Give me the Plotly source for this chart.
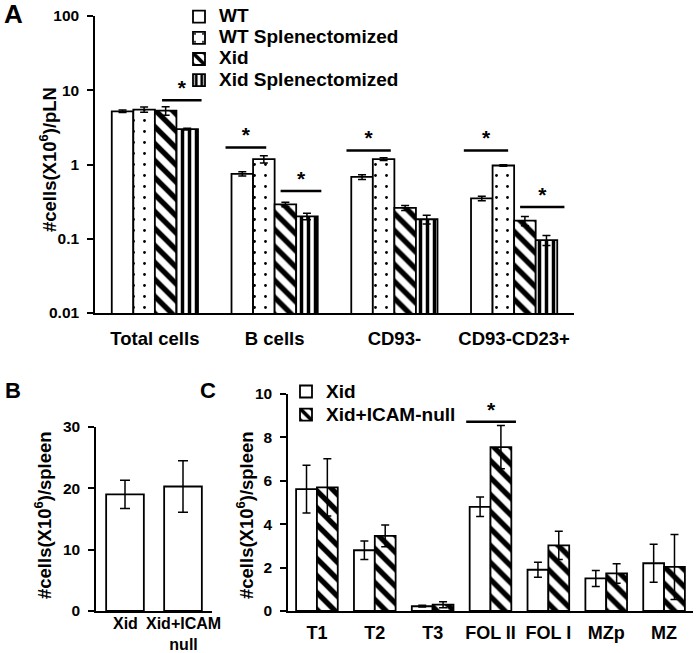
import plotly.graph_objects as go

# ---------------- Panel A data ----------------
a_categories = ["Total cells", "B cells", "CD93-", "CD93-CD23+"]
a_series = ["WT", "WT Splenectomized", "Xid", "Xid Splenectomized"]
a_wt = [5.2, 0.75, 0.68, 0.35]
a_wt_err = [0.2, 0.05, 0.05, 0.025]
a_wtspl = [5.5, 1.18, 1.18, 0.97]
a_wtspl_err = [0.45, 0.13, 0.05, 0.02]
a_xid = [5.3, 0.29, 0.26, 0.175]
a_xid_err = [0.7, 0.02, 0.02, 0.025]
a_xidspl = [3.0, 0.20, 0.183, 0.096]
a_xidspl_err = [0.08, 0.02, 0.025, 0.015]
a_tickvals = [0.01, 0.1, 1, 10, 100]
a_ticktext = ["0.01", "0.1", "1", "10", "100"]
# significance bars: (category index, x offset start, x offset end, y value)
a_sig = [(0, 0.06, 0.39, 7.35), (1, -0.41, -0.07, 1.69), (1, 0.05, 0.39, 0.44),
         (2, -0.40, -0.03, 1.54), (3, -0.42, -0.05, 1.54), (3, 0.05, 0.42, 0.267)]

# ---------------- Panel B data ----------------
b_categories = ["Xid", "Xid+ICAM<br>null"]
b_values = [19.0, 20.3]
b_err = [2.3, 4.2]
b_tickvals = [0, 10, 20, 30]

# ---------------- Panel C data ----------------
c_categories = ["T1", "T2", "T3", "FOL II", "FOL I", "MZp", "MZ"]
c_series = ["Xid", "Xid+ICAM-null"]
c_xid = [5.62, 2.8, 0.22, 4.8, 1.9, 1.5, 2.2]
c_xid_err = [1.1, 0.43, 0.04, 0.45, 0.35, 0.37, 0.88]
c_icam = [5.7, 3.46, 0.29, 7.55, 3.02, 1.73, 2.03]
c_icam_err = [1.32, 0.5, 0.14, 1.0, 0.65, 0.45, 1.5]
c_tickvals = [0, 2, 4, 6, 8, 10]
c_sig = [(3, -0.42, 0.44, 8.72)]

FONT = "Liberation Sans, Arial, sans-serif"
W, H = 697, 653

fig = go.Figure()

patterns = [dict(shape=""),
            dict(shape=".", size=11, solidity=0.05, fgcolor="black", bgcolor="white"),
            dict(shape="\\", size=12, solidity=0.45, fgcolor="black", bgcolor="white"),
            dict(shape="|", size=7, solidity=0.5, fgcolor="black", bgcolor="white")]


def big(name, size):
    return f"<span style='font-size:{size}px'>{name}</span>"


a_vals = [a_wt, a_wtspl, a_xid, a_xidspl]
a_errs = [a_wt_err, a_wtspl_err, a_xid_err, a_xidspl_err]
a_x = list(range(len(a_categories)))
for name, vals, errs, pat in zip(a_series, a_vals, a_errs, patterns):
    fig.add_trace(go.Bar(
        x=a_x, y=vals, name=big(name, 19), xaxis="x", yaxis="y", legend="legend",
        marker=dict(color="white", line=dict(color="black", width=1.8), pattern=pat),
        error_y=dict(type="data", array=errs, color="black", thickness=1.5, width=4),
        offsetgroup=name,
    ))

for (ci, o0, o1, yv) in a_sig:
    fig.add_trace(go.Scatter(x=[ci + o0, ci + o1], y=[yv, yv], mode="lines",
                             line=dict(color="black", width=2.5), xaxis="x", yaxis="y",
                             showlegend=False, hoverinfo="skip"))
    fig.add_trace(go.Scatter(x=[ci + (o0 + o1) / 2], y=[yv], mode="text", text=["<b>*</b>"],
                             textposition="top center",
                             textfont=dict(family=FONT, size=21, color="black"),
                             xaxis="x", yaxis="y", showlegend=False, hoverinfo="skip"))

# Panel B
b_x = list(range(len(b_categories)))
fig.add_trace(go.Bar(
    x=b_x, y=b_values, xaxis="x2", yaxis="y2", showlegend=False,
    marker=dict(color="white", line=dict(color="black", width=1.8)),
    error_y=dict(type="data", array=b_err, color="black", thickness=1.5, width=5),
    width=0.65,
))

# Panel C
c_x = list(range(len(c_categories)))
for name, vals, errs, pat in zip(c_series, [c_xid, c_icam], [c_xid_err, c_icam_err],
                                 [patterns[0], patterns[2]]):
    fig.add_trace(go.Bar(
        x=c_x, y=vals, name=big(name, 19), xaxis="x3", yaxis="y3", legend="legend2",
        marker=dict(color="white", line=dict(color="black", width=1.8), pattern=pat),
        error_y=dict(type="data", array=errs, color="black", thickness=1.5, width=4),
        offsetgroup="c" + name,
    ))
for (ci, o0, o1, yv) in c_sig:
    fig.add_trace(go.Scatter(x=[ci + o0, ci + o1], y=[yv, yv], mode="lines",
                             line=dict(color="black", width=2.5), xaxis="x3", yaxis="y3",
                             showlegend=False, hoverinfo="skip"))
    fig.add_trace(go.Scatter(x=[ci + (o0 + o1) / 2], y=[yv], mode="text", text=["<b>*</b>"],
                             textposition="top center",
                             textfont=dict(family=FONT, size=21, color="black"),
                             xaxis="x3", yaxis="y3", showlegend=False, hoverinfo="skip"))


def bold(size):
    return dict(family=FONT, size=size, color="black", weight="bold")


def px_x(p):
    return p / W


def px_y(p):
    return 1 - p / H


common_y = dict(showline=True, linecolor="black", linewidth=1.5, ticks="outside", ticklen=6,
                tickcolor="black", tickwidth=1.5, showgrid=False, zeroline=False,
                tickfont=bold(15.5), automargin=False, ticklabelstandoff=5,
                ticklabeloverflow="allow")
common_x = dict(showline=True, linecolor="black", linewidth=1.5, ticks="", showgrid=False,
                zeroline=False, automargin=False, ticklabeloverflow="allow")

ytitle = "#cells(X10<sup>6</sup>)/"

annotations = [
    dict(text="A", x=px_x(13), y=px_y(14), xref="paper", yref="paper", xanchor="center",
         yanchor="middle", showarrow=False, font=bold(26)),
    dict(text="B", x=px_x(13), y=px_y(390), xref="paper", yref="paper", xanchor="center",
         yanchor="middle", showarrow=False, font=bold(22)),
    dict(text="C", x=px_x(208), y=px_y(390), xref="paper", yref="paper",
         xanchor="center", yanchor="middle", showarrow=False, font=bold(22)),
    dict(text=ytitle + "pLN", x=px_x(48), y=px_y(160), xref="paper", yref="paper",
         xanchor="center", yanchor="middle", textangle=-90, showarrow=False,
         font=bold(18.5)),
    dict(text=ytitle + "spleen", x=px_x(43), y=px_y(515), xref="paper", yref="paper",
         xanchor="center", yanchor="middle", textangle=-90, showarrow=False,
         font=bold(18.5)),
    dict(text=ytitle + "spleen", x=px_x(245), y=px_y(515), xref="paper", yref="paper",
         xanchor="center", yanchor="middle", textangle=-90, showarrow=False,
         font=bold(18.5)),
]
# Panel B category labels (two-line label placed tight under the axis)
for xi, lab in zip(b_x, b_categories):
    annotations.append(dict(text=lab, x=xi, xref="x2", y=px_y(613), yref="paper",
                            xanchor="center", yanchor="top", showarrow=False,
                            font=bold(16)))

fig.update_layout(
    template="none",
    width=W, height=H, margin=dict(l=0, r=0, t=0, b=0, autoexpand=False),
    paper_bgcolor="white", plot_bgcolor="white",
    barmode="group", bargap=0.28, bargroupgap=0,
    font=dict(family=FONT, color="black"),
    xaxis=dict(domain=[px_x(95), px_x(574)], range=[-0.5, 3.5], anchor="y",
               tickvals=a_x, ticktext=a_categories, ticklabelstandoff=8,
               tickfont=bold(18.5), **common_x),
    yaxis=dict(domain=[px_y(313), px_y(16)], type="log", range=[-2, 2], anchor="x",
               tickvals=a_tickvals, ticktext=a_ticktext, **common_y),
    xaxis2=dict(domain=[px_x(96), px_x(212)], range=[-0.5, 1.5], anchor="y2",
                tickvals=b_x, showticklabels=False, **common_x),
    yaxis2=dict(domain=[px_y(611), px_y(427)], range=[0, 30], anchor="x2",
                tickvals=b_tickvals, **common_y),
    xaxis3=dict(domain=[px_x(288), px_x(693)], range=[-0.5, 6.5], anchor="y3",
                tickvals=c_x, ticktext=c_categories, ticklabelstandoff=5,
                tickfont=bold(18), **common_x),
    yaxis3=dict(domain=[px_y(611), px_y(394)], range=[0, 10], anchor="x3",
                tickvals=c_tickvals, **common_y),
    legend=dict(x=px_x(179), y=px_y(1), xanchor="left", yanchor="top",
                font=bold(14), bgcolor="rgba(0,0,0,0)", tracegroupgap=0),
    legend2=dict(x=px_x(286), y=px_y(375), xanchor="left", yanchor="top",
                 font=bold(15.4), bgcolor="rgba(0,0,0,0)"),
    annotations=annotations,
)

fig.write_html("out.html", config={"displayModeBar": False},
               post_script="document.body.style.margin='0px';")
